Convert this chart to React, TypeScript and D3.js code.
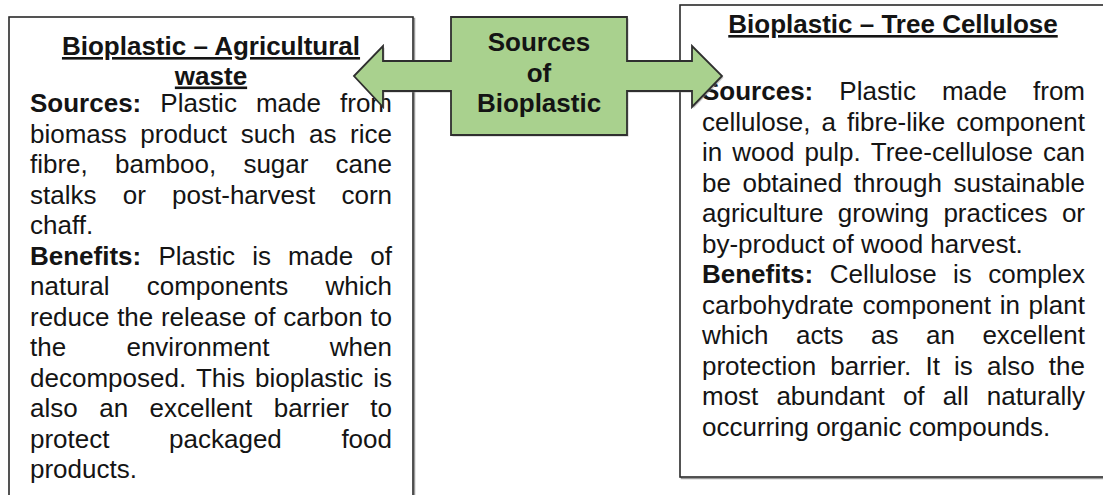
import React, { useMemo } from 'react';
import * as d3 from 'd3';

const W = 1103;
const H = 495;
const FONT = "'Liberation Sans', Arial, sans-serif";
const FS = 26;

const centerLabel = ['Sources', 'of', 'Bioplastic'];

const leftTitle = ['Bioplastic – Agricultural', 'waste'];
const leftLines = [
  'Sources: Plastic made from',
  'biomass product such as rice',
  'fibre, bamboo, sugar cane',
  'stalks or post-harvest corn',
  'chaff.',
  'Benefits: Plastic is made of',
  'natural components which',
  'reduce the release of carbon to',
  'the environment when',
  'decomposed. This bioplastic is',
  'also an excellent barrier to',
  'protect packaged food',
  'products.',
];
const leftParagraphEnds = [4, 12];

const rightTitle = ['Bioplastic – Tree Cellulose'];
const rightLines = [
  'Sources: Plastic made from',
  'cellulose, a fibre-like component',
  'in wood pulp. Tree-cellulose can',
  'be obtained through sustainable',
  'agriculture growing practices or',
  'by-product of wood harvest.',
  'Benefits: Cellulose is complex',
  'carbohydrate component in plant',
  'which acts as an excellent',
  'protection barrier. It is also the',
  'most abundant of all naturally',
  'occurring organic compounds.',
];
const rightParagraphEnds = [5, 11];

const boldWords = ['Sources:', 'Benefits:'];

let ctx: CanvasRenderingContext2D | null = null;
function measure(word: string, bold: boolean) {
  if (!ctx) ctx = document.createElement('canvas').getContext('2d');
  if (!ctx) return word.length * FS * 0.5;
  ctx.font = (bold ? 'bold ' : '') + FS + 'px ' + FONT;
  return ctx.measureText(word).width;
}

// one justified line -> positioned words
function layoutLine(line: string, x0: number, x1: number, justify: boolean) {
  const words = line.split(' ').map((w) => ({ w, bold: boldWords.includes(w) }));
  const widths = words.map((d) => measure(d.w, d.bold));
  const space = measure(' ', false);
  let gap = space;
  if (justify && words.length > 1) {
    gap = (x1 - x0 - d3.sum(widths)) / (words.length - 1);
  }
  let x = x0;
  return words.map((d, i) => {
    const out = { ...d, x };
    x += widths[i] + gap;
    return out;
  });
}

function TextBlock(props: {
  lines: string[];
  ends: number[];
  x0: number;
  x1: number;
  y: d3.ScaleLinear<number, number>;
}) {
  const { lines, ends, x0, x1, y } = props;
  return (
    <g fill="#141414" fontSize={FS} fontFamily={FONT}>
      {lines.map((line, i) =>
        layoutLine(line, x0, x1, !ends.includes(i)).map((d, j) => (
          <text key={i + '-' + j} x={d.x} y={y(i)} fontWeight={d.bold ? 'bold' : 'normal'}>
            {d.w}
          </text>
        ))
      )}
    </g>
  );
}

export default function App() {
  const leftBox = { x0: 9, x1: 413, y0: 17, y1: 530 };
  const rightBox = { x0: 680, x1: 1106, y0: 5, y1: 477 };

  const yLeft = d3.scaleLinear().domain([0, leftLines.length - 1]).range([112, 478]);
  const yRight = d3.scaleLinear().domain([0, rightLines.length - 1]).range([100, 435.5]);
  const yLeftTitle = d3.scaleLinear().domain([0, 1]).range([55, 84.5]);
  const yCenter = d3.scaleLinear().domain([0, centerLabel.length - 1]).range([51, 112]);

  const arrow = useMemo(() => {
    const shaft = [61, 91];
    const head = [46, 107];
    const mid = (shaft[0] + shaft[1]) / 2;
    const box = { x0: 451, x1: 627, y0: 17, y1: 135 };
    const tipL = 354, baseL = 383, baseR = 692, tipR = 722;
    const p = d3.path();
    p.moveTo(tipL, mid);
    p.lineTo(baseL, head[0]);
    p.lineTo(baseL, shaft[0]);
    p.lineTo(box.x0, shaft[0]);
    p.lineTo(box.x0, box.y0);
    p.lineTo(box.x1, box.y0);
    p.lineTo(box.x1, shaft[0]);
    p.lineTo(baseR, shaft[0]);
    p.lineTo(baseR, head[0]);
    p.lineTo(tipR, mid);
    p.lineTo(baseR, head[1]);
    p.lineTo(baseR, shaft[1]);
    p.lineTo(box.x1, shaft[1]);
    p.lineTo(box.x1, box.y1);
    p.lineTo(box.x0, box.y1);
    p.lineTo(box.x0, shaft[1]);
    p.lineTo(baseL, shaft[1]);
    p.lineTo(baseL, head[1]);
    p.closePath();
    return { d: p.toString(), cx: (box.x0 + box.x1) / 2 };
  }, []);

  return (
    <svg
      width={W}
      height={H}
      style={{ position: 'absolute', left: 0, top: 0, background: '#fff' }}
    >
      {/* text boxes */}
      {[leftBox, rightBox].map((b, i) => (
        <g key={i}>
          <rect x={b.x0 + 1.5} y={b.y0 + 1.5} width={b.x1 - b.x0} height={b.y1 - b.y0}
            fill="none" stroke="#9a9a9a" strokeWidth={1.5} />
          <rect x={b.x0} y={b.y0} width={b.x1 - b.x0} height={b.y1 - b.y0}
            fill="#fff" stroke="#2a2a2a" strokeWidth={1.6} />
        </g>
      ))}

      <g fontFamily={FONT} fontSize={FS} fontWeight="bold" fill="#141414"
        textAnchor="middle" textDecoration="underline">
        {leftTitle.map((t, i) => (
          <text key={i} x={(leftBox.x0 + leftBox.x1) / 2} y={yLeftTitle(i)}>{t}</text>
        ))}
        {rightTitle.map((t, i) => (
          <text key={i} x={893} y={33}>{t}</text>
        ))}
      </g>

      <TextBlock lines={leftLines} ends={leftParagraphEnds} x0={30} x1={392} y={yLeft} />
      <TextBlock lines={rightLines} ends={rightParagraphEnds} x0={702} x1={1085} y={yRight} />

      {/* callout arrow */}
      <path d={arrow.d} transform="translate(1.5,1.5)" fill="#8a8a8a" opacity={0.5} />
      <path d={arrow.d} fill="#a9d18e" stroke="#2f2f2f" strokeWidth={1.8} strokeLinejoin="miter" />
      <g fontFamily={FONT} fontSize={FS} fontWeight="bold" fill="#141414" textAnchor="middle">
        {centerLabel.map((t, i) => (
          <text key={i} x={arrow.cx} y={yCenter(i)}>{t}</text>
        ))}
      </g>
    </svg>
  );
}
